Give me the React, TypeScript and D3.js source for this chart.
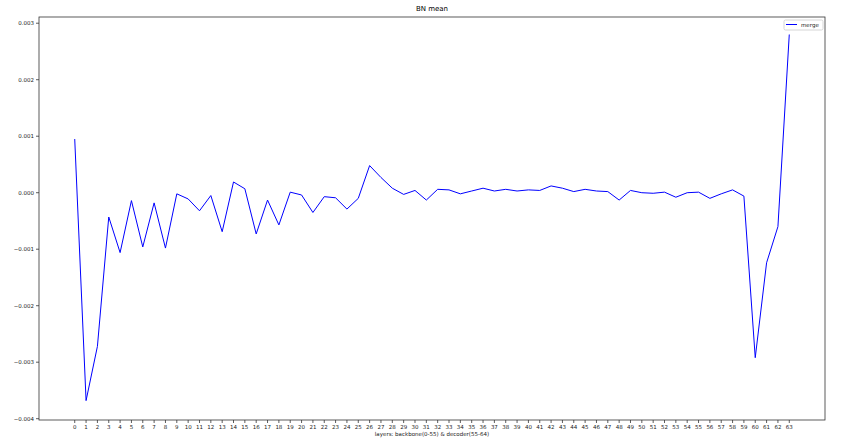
import React from "react";
import * as d3 from "d3";

const layers: number[] = d3.range(0, 64);
const mergeValues: number[] = [
  0.95, -3.68, -2.72, -0.43, -1.06, -0.14, -0.96, -0.18, -0.98, -0.02,
  -0.11, -0.32, -0.05, -0.69, 0.19, 0.07, -0.73, -0.13, -0.57, 0.01,
  -0.04, -0.35, -0.07, -0.09, -0.29, -0.1, 0.48, 0.27, 0.08, -0.03,
  0.04, -0.13, 0.06, 0.05, -0.02, 0.03, 0.08, 0.03, 0.06, 0.03,
  0.05, 0.04, 0.12, 0.08, 0.02, 0.06, 0.03, 0.02, -0.13, 0.04,
  0.0, -0.01, 0.01, -0.08, 0.0, 0.01, -0.1, -0.02, 0.05, -0.06,
  -2.92, -1.24, -0.6, 2.8,
].map((v) => v / 1000);
const yTicks: number[] = [-0.004, -0.003, -0.002, -0.001, 0, 0.001, 0.002, 0.003];
const title = "BN mean";
const xLabel = "layers: backbone(0-55) & decoder(55-64)";
const seriesName = "merge";

export default function App() {
  const W = 848, H = 446;
  const L = 39, R = 825, T = 17, B = 420;
  const x = d3.scaleLinear().domain([-3.15, 66.15]).range([L, R]);
  const y = d3.scaleLinear().domain([-0.004023, 0.00311]).range([B, T]);
  const line = d3
    .line<number>()
    .x((_, i) => x(layers[i]))
    .y((d) => y(d));
  const font = "DejaVu Sans, sans-serif";
  return (
    <svg
      width={W}
      height={H}
      style={{ position: "absolute", left: 0, top: 0, background: "#fff" }}
      fontFamily={font}
    >
      <rect x={0} y={0} width={W} height={H} fill="#fff" />
      <text x={(L + R) / 2} y={11} textAnchor="middle" fontSize={7} fill="#000">
        {title}
      </text>
      <path d={line(mergeValues) || ""} fill="none" stroke="#0000ff" strokeWidth={1} />
      <rect x={L} y={T} width={R - L} height={B - T} fill="none" stroke="#333" strokeWidth={0.8} />
      {yTicks.map((t) => (
        <g key={t}>
          <line x1={L - 3} x2={L} y1={y(t)} y2={y(t)} stroke="#333" strokeWidth={0.8} />
          <text x={L - 5} y={y(t) + 2} textAnchor="end" fontSize={5.5} fill="#222">
            {d3.format(".3f")(t).replace("-", "\u2212")}
          </text>
        </g>
      ))}
      {layers.map((l) => (
        <g key={l}>
          <line x1={x(l)} x2={x(l)} y1={B} y2={B + 3} stroke="#333" strokeWidth={0.8} />
          <text x={x(l)} y={B + 9} textAnchor="middle" fontSize={5.5} fill="#222">
            {l}
          </text>
        </g>
      ))}
      <text x={(L + R) / 2} y={436} textAnchor="middle" fontSize={5.5} fill="#222">
        {xLabel}
      </text>
      <g>
        <rect x={784} y={20} width={39} height={10} fill="#fff" stroke="#ccc" strokeWidth={0.8} rx={1.5} />
        <line x1={786} x2={797} y1={24.5} y2={24.5} stroke="#0000ff" strokeWidth={1} />
        <text x={801} y={26.5} fontSize={5.5} fill="#222">
          {seriesName}
        </text>
      </g>
    </svg>
  );
}
